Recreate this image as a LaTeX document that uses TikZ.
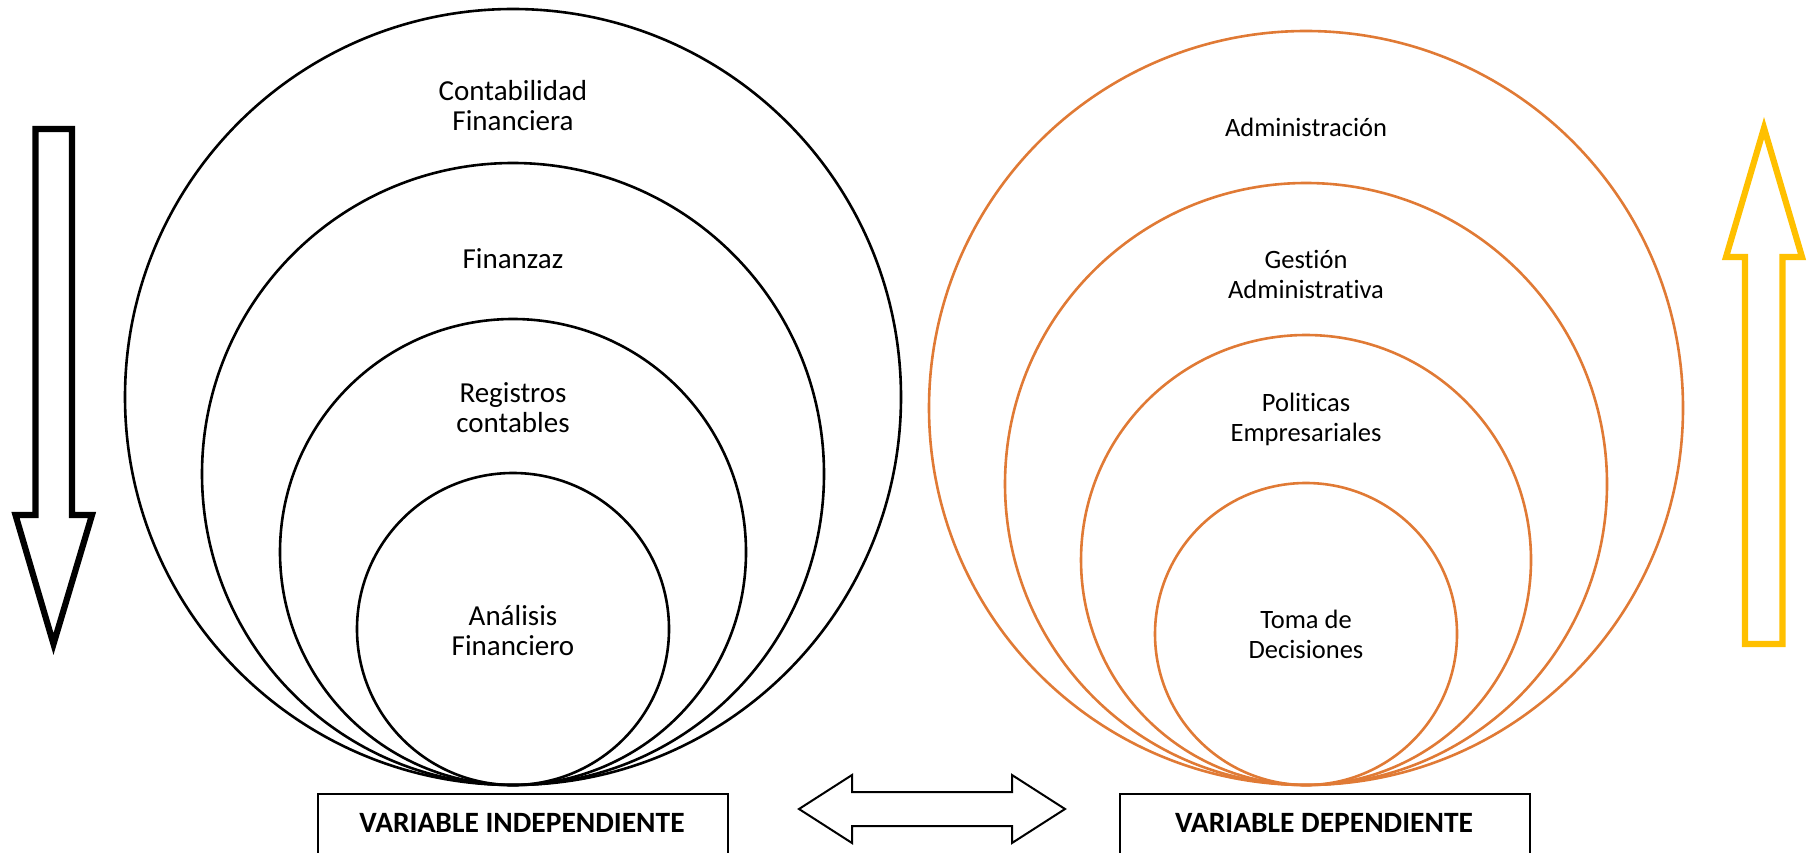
\documentclass[tikz,border=0pt]{standalone}
\usepackage{fontspec}
\setmainfont[Ligatures=CommonOff]{Carlito}
\definecolor{orng}{HTML}{E07A35}
\definecolor{gold}{HTML}{FFC000}
\begin{document}
\begin{tikzpicture}[x=1pt,y=-1pt,
  ring/.style={circle,draw,line width=2.6pt,inner sep=0pt},
  oring/.style={ring,draw=orng},
  lbl/.style={align=center,font=\fontsize{29}{30}\selectfont,inner sep=0pt},
  rlbl/.style={align=center,font=\fontsize{26.5}{30}\selectfont,inner sep=0pt},
  varbox/.style={draw,line width=2.4pt,minimum width=410pt,minimum height=90pt,inner sep=0pt,anchor=north west},
  varlbl/.style={font=\fontsize{29.5}{31}\selectfont\bfseries,inner sep=0pt},
  bigarrow/.style={line width=6.2pt,line join=miter,miter limit=10},
]
\useasboundingbox (0,0) rectangle (1811,853);
\clip (0,0) rectangle (1811,853);
% left circles
\node[ring,minimum size=776pt] (L1) at (513,397) {};
\node[ring,minimum size=622pt] (L2) at (513,474) {};
\node[ring,minimum size=466pt] (L3) at (513,552) {};
\node[ring,minimum size=312pt] (L4) at (513,629) {};
% right circles
\node[oring,minimum size=754pt] (R1) at (1306,408) {};
\node[oring,minimum size=602pt] (R2) at (1306,484) {};
\node[oring,minimum size=450pt] (R3) at (1306,560) {};
\node[oring,minimum size=302pt] (R4) at (1306,634) {};
% labels
\node[lbl] (tL1) at (513,106) {Contabilidad\\Financiera};
\node[lbl] (tL2) at (513,259) {Finanzaz};
\node[lbl] (tL3) at (513,408) {Registros\\contables};
\node[lbl] (tL4) at (513,631) {Análisis\\Financiero};
\node[rlbl] (tR1) at (1306,127) {Administración};
\node[rlbl] (tR2) at (1306,274) {Gestión\\Administrativa};
\node[rlbl] (tR3) at (1306,419) {Politicas\\Empresariales};
\node[rlbl] (tR4) at (1306,634) {Toma de\\Decisiones};
% boxes
\node[varbox] (bL) at (317,793) {};
\node[varbox] (bR) at (1119,793) {};
\node[varlbl] (bLt) at (522,823) {VARIABLE INDEPENDIENTE};
\node[varlbl] (bRt) at (1324,823) {VARIABLE DEPENDIENTE};
% double arrow
\draw[line width=2pt,line join=miter] (799,809) -- (852,775) -- (852,792) -- (1012,792) -- (1012,775) -- (1065,809)
  -- (1012,843) -- (1012,826) -- (852,826) -- (852,843) -- cycle;
% black down arrow
\draw[bigarrow] (35.5,129) -- (72,129) -- (72,515) -- (92,515) -- (53.5,644) -- (15.5,515) -- (35.5,515) -- cycle;
% yellow up arrow
\draw[bigarrow,draw=gold] (1745,644) -- (1782.5,644) -- (1782.5,257) -- (1802,257) -- (1764,128) -- (1726,257) -- (1745,257) -- cycle;
\end{tikzpicture}
\end{document}
